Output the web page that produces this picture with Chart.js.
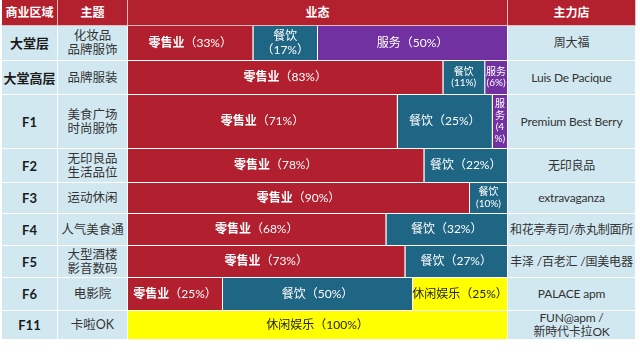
<!DOCTYPE html>
<html><head><meta charset="utf-8">
<script src="https://cdn.jsdelivr.net/npm/chart.js@4.4.1/dist/chart.umd.min.js"></script>
<style>
html,body{margin:0;padding:0;background:#fff;width:640px;height:363px;overflow:hidden;}
#wrap{position:absolute;left:2px;top:0;}
.cell{position:absolute;box-sizing:border-box;display:flex;align-items:center;justify-content:center;text-align:center;white-space:pre;
  border-right:1px solid #fff;border-bottom:1px solid #fff;font-family:Lato,"Noto Sans CJK SC",sans-serif;color:#333;line-height:14px;}
.hd{background:#B3202E;color:#fff;font-weight:bold;font-size:12px;border-color:#e9b9c0;}
.bl{background:#D2E8F1;font-size:12.5px;}
.an{font-size:12px;letter-spacing:-0.2px;}
.zn{font-weight:bold;color:#1a1a1a;font-size:13px;}
#bars{position:absolute;}
</style></head><body>
<div id="wrap"></div>
<script>
// ---- data ----
const headers = ['商业区域', '主题', '业态', '主力店'];
const zones = ['大堂层', '大堂高层', 'F1', 'F2', 'F3', 'F4', 'F5', 'F6', 'F11'];
const themes = ['化妆品\n品牌服饰', '品牌服装', '美食广场\n时尚服饰', '无印良品\n生活品位', '运动休闲', '人气美食通', '大型酒楼\n影音数码', '电影院', '卡啦OK'];
const anchors = ['周大福', 'Luis De Pacique', 'Premium Best Berry', '无印良品', 'extravaganza', '和花亭寿司/赤丸制面所', '丰泽 /百老汇 /国美电器', 'PALACE apm', 'FUN@apm /\n新時代卡拉OK'];
const formats = ['零售业', '餐饮', '服务', '休闲娱乐'];
const retail  = [33, 83, 71, 78, 90, 68, 73, 25, 0];
const dining  = [17, 11, 25, 22, 10, 32, 27, 50, 0];
const service = [50, 6, 4, 0, 0, 0, 0, 0, 0];
const leisure = [0, 0, 0, 0, 0, 0, 0, 25, 100];

// ---- layout / style ----
const colWidths = [56, 70, 380, 128];
const headerH = 26;
const rowHeights = [35, 34, 54, 34, 31, 32, 32, 33, 29];
const colors = ['#B21F2F', '#1F6584', '#7131A1', '#FFFF00'];
const textColors = ['#ffffff', '#ffffff', '#ffffff', '#222222'];
const FAM = 'Lato, "Noto Sans CJK SC", sans-serif';

const wrap = document.getElementById('wrap');
const colX = [0];
colWidths.forEach((w, i) => colX.push(colX[i] + w));
function cell(text, col, top, h, cls) {
  const d = document.createElement('div');
  d.className = 'cell ' + cls;
  d.style.left = colX[col] + 'px'; d.style.top = top + 'px';
  d.style.width = colWidths[col] + 'px'; d.style.height = h + 'px';
  d.textContent = text;
  wrap.appendChild(d);
}
headers.forEach((t, c) => cell(t, c, 0, headerH, 'hd'));
let yy = headerH;
zones.forEach((z, r) => {
  cell(z, 0, yy, rowHeights[r], 'bl zn');
  cell(themes[r], 1, yy, rowHeights[r], 'bl');
  cell(anchors[r], 3, yy, rowHeights[r], 'bl an');
  yy += rowHeights[r];
});
const total = rowHeights.reduce((a, b) => a + b, 0);
const box = document.createElement('div');
box.id = 'bars';
box.style.left = colX[2] + 'px'; box.style.top = headerH + 'px';
box.style.width = colWidths[2] + 'px'; box.style.height = total + 'px';
const cv = document.createElement('canvas');
box.appendChild(cv); wrap.appendChild(box);

// ---- datasets: one floating bar per segment ----
const series = [retail, dining, service, leisure];
const segInfo = [];
const datasets = [];
let acc = 0;
zones.forEach((z, r) => {
  const center = acc + rowHeights[r] / 2;
  acc += rowHeights[r];
  let start = 0;
  series.forEach((s, c) => {
    const v = s[r];
    if (!v) return;
    datasets.push({
      label: formats[c],
      data: [{ x: [start, start + v], y: center }],
      backgroundColor: colors[c],
      borderColor: 'rgba(255,255,255,0.9)',
      borderWidth: { top: 0, left: 0, right: 1, bottom: 1 },
      borderSkipped: false,
      inflateAmount: 0,
      barThickness: 'flex',
      categoryPercentage: rowHeights[r] / total,
      barPercentage: 1,
      stack: 'rows'
    });
    segInfo.push({ c, v });
    start += v;
  });
});

function wrapChars(ctx, s, maxW) {
  const lines = []; let cur = '';
  for (const ch of s) {
    if (cur && ctx.measureText(cur + ch).width > maxW) { lines.push(cur); cur = ch; }
    else cur += ch;
  }
  if (cur) lines.push(cur);
  return lines;
}

const labelPlugin = {
  id: 'segLabels',
  afterDatasetsDraw(chart) {
    const ctx = chart.ctx;
    ctx.save();
    chart.data.datasets.forEach((ds, i) => {
      const el = chart.getDatasetMeta(i).data[0];
      const p = el.getProps(['x', 'y', 'base'], true);
      const left = Math.min(p.x, p.base), right = Math.max(p.x, p.base);
      const w = right - left - 1;
      const cx = left + w / 2, cy = p.y - 0.5;
      const { c, v } = segInfo[i];
      const name = formats[c];
      const pct = '（' + v + '%）';
      const nf = (c === 0 ? 'bold ' : '') + '12px ' + FAM, pf = '12px ' + FAM;
      ctx.fillStyle = textColors[c];
      ctx.textBaseline = 'middle';
      ctx.font = nf; const wn = ctx.measureText(name).width;
      ctx.font = pf; const wp = ctx.measureText(pct).width;
      if (wn + wp <= w + 5) {
        ctx.textAlign = 'left';
        const x0 = cx - (wn + wp) / 2;
        ctx.font = nf; ctx.fillText(name, x0, cy);
        ctx.font = pf; ctx.fillText(pct, x0 + wn, cy);
      } else if (Math.max(wn, wp) <= w - 2) {
        ctx.textAlign = 'center';
        ctx.font = nf; ctx.fillText(name, cx, cy - 7);
        ctx.font = pf; ctx.fillText(pct, cx, cy + 7);
      } else {
        ctx.textAlign = 'center';
        ctx.font = '10px ' + FAM;
        const lines = wrapChars(ctx, name, w).concat(wrapChars(ctx, '(' + v + '%)', w));
        const lh = 11.5;
        lines.forEach((ln, k) => ctx.fillText(ln, cx, cy + (k - (lines.length - 1) / 2) * lh));
      }
    });
    ctx.restore();
  }
};

new Chart(cv, {
  type: 'bar',
  data: { datasets },
  options: {
    indexAxis: 'y',
    responsive: true,
    maintainAspectRatio: false,
    animation: false,
    layout: { padding: 0 },
    plugins: { legend: { display: false }, tooltip: { enabled: false } },
    scales: {
      x: { type: 'linear', min: 0, max: 100, display: false, stacked: false, offset: false },
      y: { type: 'linear', min: 0, max: total, reverse: true, display: false, offset: false }
    }
  },
  plugins: [labelPlugin]
});
</script>
</body></html>
